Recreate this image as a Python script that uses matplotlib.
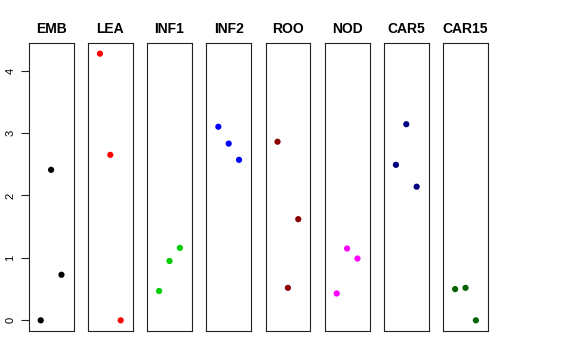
import matplotlib
matplotlib.use("Agg")
import matplotlib.pyplot as plt

categories = ["EMB", "LEA", "INF1", "INF2", "ROO", "NOD", "CAR5", "CAR15"]
values = {
    "EMB":   [0.00, 2.41, 0.73],
    "LEA":   [4.27, 2.65, 0.00],
    "INF1":  [0.47, 0.95, 1.16],
    "INF2":  [3.10, 2.83, 2.57],
    "ROO":   [2.86, 0.52, 1.62],
    "NOD":   [0.43, 1.15, 0.99],
    "CAR5":  [2.49, 3.14, 2.14],
    "CAR15": [0.50, 0.52, 0.00],
}
colors = ["#000000", "#FF0000", "#00CD00", "#0000FF", "#8B0000", "#FF00FF", "#000080", "#006400"]
x_pos = [1, 2, 3]
y_ticks = [0, 1, 2, 3, 4]

plt.rcParams['font.family'] = ['Liberation Sans', 'DejaVu Sans']

W, H = 576, 360
fig = plt.figure(figsize=(W / 100, H / 100), dpi=100)

ymax = max(max(v) for v in values.values())
ylim = (-0.04 * ymax, 1.04 * ymax)
xlim = (0 - 0.16, 4 + 0.16)

left0, step, pw = 28.7, 59.2, 44.8
top_px, bot_px = 43, 331
for i, cat in enumerate(categories):
    l = left0 + i * step
    ax = fig.add_axes([l / W, (H - bot_px) / H, pw / W, (bot_px - top_px) / H])
    ax.scatter(x_pos, values[cat], s=20, color=colors[i], edgecolors='none', zorder=3)
    ax.set_xlim(*xlim)
    ax.set_ylim(*ylim)
    ax.set_xticks([])
    for sp in ax.spines.values():
        sp.set_linewidth(0.8)
        sp.set_color('#222222')
    ax.set_title(cat, fontsize=10, fontweight='bold', pad=7.5)
    if i == 0:
        ax.set_yticks(y_ticks)
        ax.set_yticklabels([str(t) for t in y_ticks], rotation=90, va='center')
        ax.tick_params(axis='y', length=5.5, width=0.8, labelsize=8, pad=4, color='#222222')
    else:
        ax.set_yticks([])

fig.savefig("out.png", dpi=100)
